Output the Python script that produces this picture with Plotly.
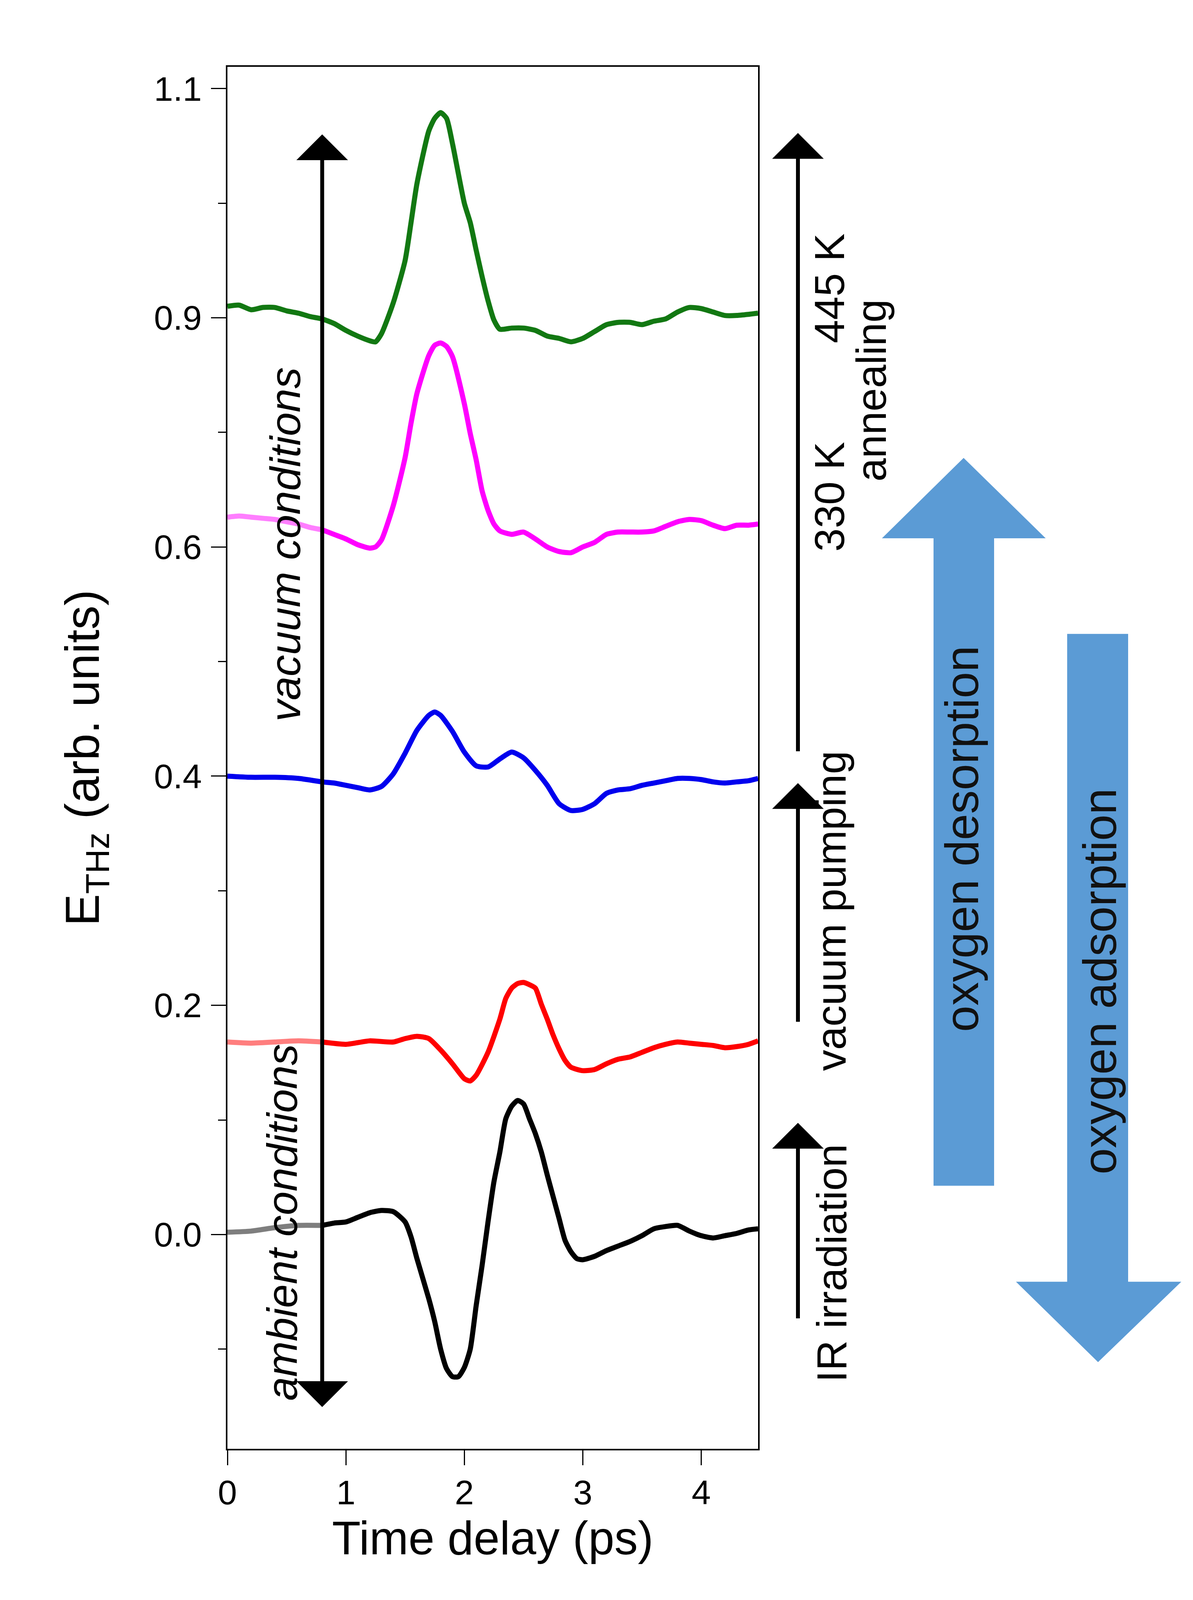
import plotly.graph_objects as go

# ---------------- data ----------------
t_green = [0.0,0.1,0.2,0.3,0.4,0.5,0.6,0.7,0.8,0.9,1.0,1.1,1.2,1.25,1.3,1.4,1.5,1.55,1.6,1.7,1.75,1.8,1.85,1.9,2.0,2.05,2.1,2.15,2.2,2.25,2.3,2.4,2.5,2.6,2.7,2.8,2.9,3.0,3.1,3.2,3.3,3.4,3.5,3.6,3.7,3.8,3.9,4.0,4.1,4.2,4.3,4.4,4.48]
v_green = [0.810,0.811,0.807,0.809,0.809,0.806,0.804,0.801,0.799,0.795,0.789,0.784,0.780,0.779,0.786,0.813,0.850,0.883,0.917,0.963,0.974,0.979,0.974,0.952,0.900,0.883,0.859,0.836,0.815,0.798,0.790,0.791,0.791,0.789,0.784,0.782,0.779,0.782,0.788,0.794,0.796,0.796,0.794,0.797,0.799,0.805,0.809,0.808,0.805,0.802,0.802,0.803,0.804]

t_mag = [0.0,0.1,0.2,0.3,0.4,0.5,0.6,0.7,0.8,0.9,1.0,1.1,1.2,1.25,1.3,1.4,1.5,1.55,1.6,1.7,1.75,1.8,1.85,1.9,2.0,2.05,2.1,2.15,2.2,2.25,2.3,2.4,2.5,2.6,2.7,2.8,2.9,3.0,3.1,3.2,3.3,3.4,3.5,3.6,3.7,3.8,3.9,4.0,4.1,4.2,4.3,4.4,4.48]
v_mag = [0.626,0.627,0.626,0.625,0.624,0.622,0.620,0.617,0.615,0.611,0.607,0.602,0.599,0.600,0.606,0.636,0.678,0.708,0.734,0.767,0.776,0.778,0.775,0.766,0.725,0.699,0.676,0.649,0.632,0.620,0.614,0.611,0.613,0.607,0.600,0.596,0.595,0.600,0.604,0.611,0.613,0.613,0.613,0.614,0.618,0.622,0.624,0.623,0.619,0.616,0.619,0.619,0.620]

t_blue = [0.0,0.2,0.4,0.6,0.8,0.9,1.0,1.1,1.2,1.3,1.4,1.5,1.6,1.7,1.75,1.8,1.9,2.0,2.1,2.2,2.3,2.4,2.5,2.6,2.7,2.8,2.9,3.0,3.1,3.2,3.3,3.4,3.5,3.6,3.7,3.8,3.9,4.0,4.1,4.2,4.3,4.4,4.48]
v_blue = [0.400,0.399,0.399,0.398,0.395,0.394,0.392,0.390,0.388,0.391,0.402,0.420,0.440,0.453,0.456,0.453,0.439,0.421,0.409,0.408,0.415,0.421,0.416,0.405,0.392,0.376,0.370,0.371,0.376,0.385,0.388,0.389,0.392,0.394,0.396,0.398,0.398,0.397,0.395,0.394,0.395,0.396,0.398]

t_red = [0.0,0.2,0.4,0.6,0.8,1.0,1.2,1.4,1.5,1.6,1.7,1.8,1.9,2.0,2.05,2.1,2.2,2.3,2.35,2.4,2.45,2.5,2.55,2.6,2.65,2.7,2.75,2.8,2.85,2.9,3.0,3.1,3.2,3.3,3.4,3.5,3.6,3.7,3.8,3.9,4.0,4.1,4.2,4.3,4.4,4.48]
v_red = [0.168,0.167,0.168,0.169,0.168,0.166,0.169,0.168,0.171,0.173,0.171,0.161,0.149,0.136,0.134,0.139,0.159,0.188,0.206,0.215,0.219,0.220,0.218,0.215,0.201,0.188,0.174,0.162,0.152,0.146,0.143,0.144,0.149,0.153,0.155,0.159,0.163,0.166,0.168,0.167,0.166,0.165,0.163,0.164,0.166,0.169]

t_black = [0.0,0.2,0.4,0.6,0.8,0.9,1.0,1.1,1.2,1.3,1.4,1.5,1.55,1.6,1.7,1.75,1.8,1.85,1.9,1.95,2.0,2.05,2.1,2.15,2.2,2.25,2.3,2.35,2.4,2.45,2.5,2.55,2.6,2.65,2.7,2.75,2.8,2.85,2.9,2.95,3.0,3.1,3.2,3.3,3.4,3.5,3.6,3.7,3.8,3.9,4.0,4.1,4.2,4.3,4.4,4.48]
v_black = [0.002,0.003,0.006,0.008,0.008,0.010,0.011,0.015,0.019,0.021,0.020,0.011,-0.002,-0.021,-0.056,-0.076,-0.100,-0.117,-0.124,-0.124,-0.116,-0.100,-0.062,-0.027,0.011,0.046,0.072,0.101,0.112,0.117,0.114,0.101,0.088,0.072,0.052,0.033,0.014,-0.005,-0.015,-0.021,-0.022,-0.019,-0.014,-0.010,-0.006,-0.001,0.005,0.007,0.008,0.003,-0.001,-0.003,-0.001,0.001,0.004,0.005]

series = [
    ("black", t_black, v_black, "#000000", True),
    ("red", t_red, v_red, "#ff0000", True),
    ("blue", t_blue, v_blue, "#0000ee", False),
    ("magenta", t_mag, v_mag, "#ff00ff", True),
    ("green", t_green, v_green, "#127812", False),
]

y_tickvals = [0.0, 0.2, 0.4, 0.6, 0.8, 1.0]
y_ticktext = ["0.0", "0.2", "0.4", "0.6", "0.9", "1.1"]
y_minor = [-0.1, 0.1, 0.3, 0.5, 0.7, 0.9]
x_tickvals = [0, 1, 2, 3, 4]

split_t = 0.8  # position of the vertical arrow, left part drawn faded

# ---------------- layout geometry ----------------
# the page is shown in a 3053x4096 viewport with an 8 px body margin:
# the figure is sized to fit it, reference pixel positions are mapped into it.
VIEW_W, VIEW_H, PAGE_M = 3053, 4096, 8
REF_H = 4300
S = VIEW_H / REF_H
W, H = VIEW_W - PAGE_M, VIEW_H - PAGE_M


def fx(x):
    return x - PAGE_M


def fy(y):
    return y * S - PAGE_M


L = fx(582)
R = W - fx(1940)
T = fy(180)
B = H - fy(3894)
PW, PH = W - L - R, H - T - B


def px(x):
    return (fx(x) - L) / PW


def py(y):
    return (H - B - fy(y)) / PH


FONT = "Liberation Sans, Arial, Helvetica, sans-serif"
LW = 13

fig = go.Figure()
for name, t, v, color, fade in series:
    if fade:
        i = t.index(split_t)
        fig.add_trace(go.Scatter(x=t[:i + 1], y=v[:i + 1], mode="lines",
                                 line=dict(color=color, width=LW, shape="spline", smoothing=0.6),
                                 opacity=0.5, showlegend=False, hoverinfo="skip"))
        fig.add_trace(go.Scatter(x=t[i:], y=v[i:], mode="lines", name=name,
                                 line=dict(color=color, width=LW, shape="spline", smoothing=0.6),
                                 showlegend=False))
    else:
        fig.add_trace(go.Scatter(x=t, y=v, mode="lines", name=name,
                                 line=dict(color=color, width=LW, shape="spline", smoothing=0.6),
                                 showlegend=False))

annotations = []
annotations.append(dict(x=0.8, y=0.960, ax=0.8, ay=-0.151, xref="x", yref="y", axref="x", ayref="y",
                        text="", showarrow=True, arrowhead=1, startarrowhead=1, arrowside="end+start",
                        arrowsize=2.2, startarrowsize=2.2, arrowwidth=10, arrowcolor="black",
                        standoff=0, startstandoff=0))
for tip, tail in [(358, 2021), (2105, 2748), (3018, 3545)]:
    annotations.append(dict(x=px(2042), y=py(tip), xref="paper", yref="paper", ax=0,
                            ay=fy(tail) - fy(tip), axref="pixel", ayref="pixel", text="",
                            showarrow=True, arrowhead=1, arrowsize=2.2, arrowwidth=10,
                            arrowcolor="black", standoff=0))


def vtext(txt, x, y, size, italic=False, color="black"):
    if italic:
        txt = "<i>" + txt + "</i>"
    annotations.append(dict(x=px(x), y=py(y), xref="paper", yref="paper", text=txt, showarrow=False,
                            textangle=-90, xanchor="center", yanchor="middle",
                            font=dict(family=FONT, size=size * S, color=color)))


vtext("vacuum conditions", 730, 1464, 115, italic=True)
vtext("ambient conditions", 722, 3286, 115, italic=True)
vtext("445 K", 2123, 776, 113)
vtext("330 K", 2123, 1336, 113)
vtext("annealing", 2230, 1050, 113)
vtext("vacuum pumping", 2127, 2448, 113)
vtext("IR irradiation", 2129, 3395, 113)
vtext("oxygen desorption", 2461, 2255, 127, color="#111111")
vtext("oxygen adsorption", 2814, 2638, 127, color="#111111")

BLUE = "#5b9bd5"
up = [(2466, 1231), (2676, 1447), (2544, 1447), (2544, 3187), (2389, 3187), (2389, 1447), (2257, 1447)]
down = [(2810, 3661), (3023, 3445), (2887, 3445), (2887, 1704), (2731, 1704), (2731, 3445), (2600, 3445)]
shapes = []
for poly in (up, down):
    path = "M " + " L ".join(f"{px(a):.5f},{py(b):.5f}" for a, b in poly) + " Z"
    shapes.append(dict(type="path", path=path, xref="paper", yref="paper",
                       fillcolor=BLUE, line=dict(width=0), layer="below"))

fig.update_layout(
    width=W, height=H,
    margin=dict(l=L, r=R, t=T, b=B, autoexpand=False),
    paper_bgcolor="white", plot_bgcolor="white",
    font=dict(family=FONT, color="black"),
    annotations=annotations, shapes=shapes,
    xaxis=dict(range=[0, 4.48], tickvals=x_tickvals, ticks="outside", ticklen=38, tickwidth=3,
               tickcolor="black", showline=True, linewidth=4, linecolor="black", mirror=True,
               showgrid=False, zeroline=False, tickfont=dict(size=88), ticklabelstandoff=-6,
               title=dict(text="Time delay (ps)", font=dict(size=120), standoff=22)),
    yaxis=dict(range=[-0.187, 1.019], tickvals=y_tickvals, ticktext=y_ticktext, ticks="outside",
               ticklen=38, tickwidth=3, tickcolor="black", showline=True, linewidth=4,
               linecolor="black", mirror=True, showgrid=False, zeroline=False,
               tickfont=dict(size=88), ticklabelstandoff=6,
               minor=dict(tickvals=y_minor, ticks="outside", ticklen=20, tickwidth=3, tickcolor="black"),
               title=dict(text="E<sub>THz</sub> (arb. units)", font=dict(size=129 * S), standoff=100)),
)

fig.write_html("out.html")
